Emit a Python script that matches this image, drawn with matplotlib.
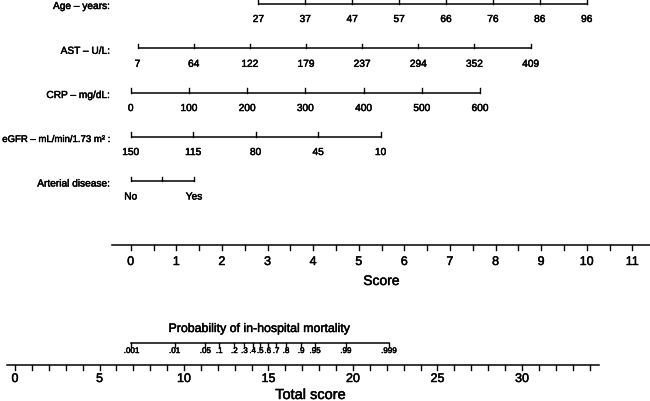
import numpy as np
import matplotlib
matplotlib.use("Agg")
import matplotlib.pyplot as plt
import matplotlib.patheffects as pe

plt.rcParams['font.family'] = ['Liberation Sans', 'DejaVu Sans']

# ---------------- data ----------------
var_names = ["Age \u2013 years:", "AST \u2013 U/L:", "CRP \u2013 mg/dL:",
             "eGFR \u2013 mL/min/1.73 m\u00b2 :", "Arterial disease:"]
age_labels = ["27", "37", "47", "57", "66", "76", "86", "96"]
ast_labels = ["7", "64", "122", "179", "237", "294", "352", "409"]
crp_labels = ["0", "100", "200", "300", "400", "500", "600"]
egfr_labels = ["150", "115", "80", "45", "10"]
art_labels = ["No", "", "Yes"]
# points (score units) at first / last tick of each variable scale
age_points = [2.80, 10.00]
ast_points = [0.15, 8.77]
crp_points = [0.00, 7.66]
egfr_points = [0.00, 5.48]
art_points = [0.00, 1.39]

score_ticks = list(range(0, 12))
total_ticks = list(range(0, 35))
total_labels = [0, 5, 10, 15, 20, 25, 30]

prob_values = [0.001, 0.01, 0.05, 0.1, 0.2, 0.3, 0.4, 0.5, 0.6, 0.7, 0.8, 0.9, 0.95, 0.99, 0.999]
prob_labels = [".001", ".01", ".05", ".1", ".2", ".3", ".4", ".5", ".6", ".7", ".8", ".9", ".95", ".99", ".999"]
prob_intercept = 14.51   # total score at p = 0.5
prob_slope = 1.103       # total score per logit unit

# ---------------- layout ----------------
W, H = 650, 402
fig = plt.figure(figsize=(W / 100, H / 100), dpi=100)
heavy = [pe.withStroke(linewidth=0.35, foreground='black')]

# top axes: x in score units, y in pixel rows from top
ax = fig.add_axes([0, 0, 1, 1])
x0_px, unit_px = 130.7, 45.6
ax.set_xlim(-x0_px / unit_px, (W - x0_px) / unit_px)
ax.set_ylim(H, 0)
ax.axis('off')

# bottom axes: x in total score units
ax2 = fig.add_axes([0, 0, 1, 1])
t0_px, tunit_px = 15.0, 16.9
ax2.set_xlim(-t0_px / tunit_px, (W - t0_px) / tunit_px)
ax2.set_ylim(H, 0)
ax2.axis('off')
ax2.patch.set_alpha(0)

row_y = [4.5, 49.3, 93.5, 137.5, 182.0]
name_sizes = [7.3, 7.3, 7.3, 6.9, 7.3]
lw = 1.1
fs_var = 7.3
name_x = (110 - x0_px) / unit_px

variables = [
    (age_labels, age_points),
    (ast_labels, ast_points),
    (crp_labels, crp_points),
    (egfr_labels, egfr_points),
    (art_labels, art_points),
]

for (labels, pts), name, nfs, y in zip(variables, var_names, name_sizes, row_y):
    pos = np.linspace(pts[0], pts[1], len(labels))
    ax.plot([pos[0], pos[-1]], [y, y], color='black', lw=lw, solid_capstyle='butt')
    for p, lab in zip(pos, labels):
        ax.plot([p, p], [y, y - 4.5], color='black', lw=lw * 0.9)
        if lab:
            ax.text(p, y + 15.5, lab, ha='center', va='center', fontsize=fs_var,
                    path_effects=heavy)
    ax.text(name_x, y + 2.5, name, ha='right', va='center', fontsize=nfs,
            path_effects=heavy)

# score axis
sy = 246
ax.plot([-0.4, 12], [sy, sy], color='black', lw=lw)
for t in np.arange(0, 11.51, 0.5):
    ax.plot([t, t], [sy, sy + 5], color='black', lw=lw * 0.9)
for t in score_ticks:
    ax.text(t, sy + 17, str(t), ha='center', va='center', fontsize=9,
            path_effects=heavy)
ax.text(5.5, sy + 36, "Score", ha='center', va='center', fontsize=10,
        path_effects=heavy)

# probability axis
py = 344
def logit(p):
    p = np.asarray(p, dtype=float)
    return np.log(p / (1 - p))
ppos = prob_intercept + prob_slope * logit(prob_values)
ax2.plot([ppos[0], ppos[-1]], [py, py], color='black', lw=lw)
for p, lab in zip(ppos, prob_labels):
    ax2.plot([p, p], [py, py + 4], color='black', lw=lw * 0.9)
    ax2.text(p, py + 8.5, lab, ha='center', va='center', fontsize=5.8,
             path_effects=heavy)
ax2.text((ppos[0] + ppos[-1]) / 2, py - 14, "Probability of in-hospital mortality",
         ha='center', va='center', fontsize=8.9, path_effects=heavy)

# total score axis
ty = 366
ax2.plot([-0.49, 34.55], [ty, ty], color='black', lw=lw)
for t in total_ticks:
    ax2.plot([t, t], [ty, ty + 5], color='black', lw=lw * 0.9)
for t in total_labels:
    ax2.text(t, ty + 14, str(t), ha='center', va='center', fontsize=9,
             path_effects=heavy)
ax2.text(17.5, ty + 30, "Total score", ha='center', va='center', fontsize=10.5,
         path_effects=heavy)

fig.savefig("out.png", dpi=100)
